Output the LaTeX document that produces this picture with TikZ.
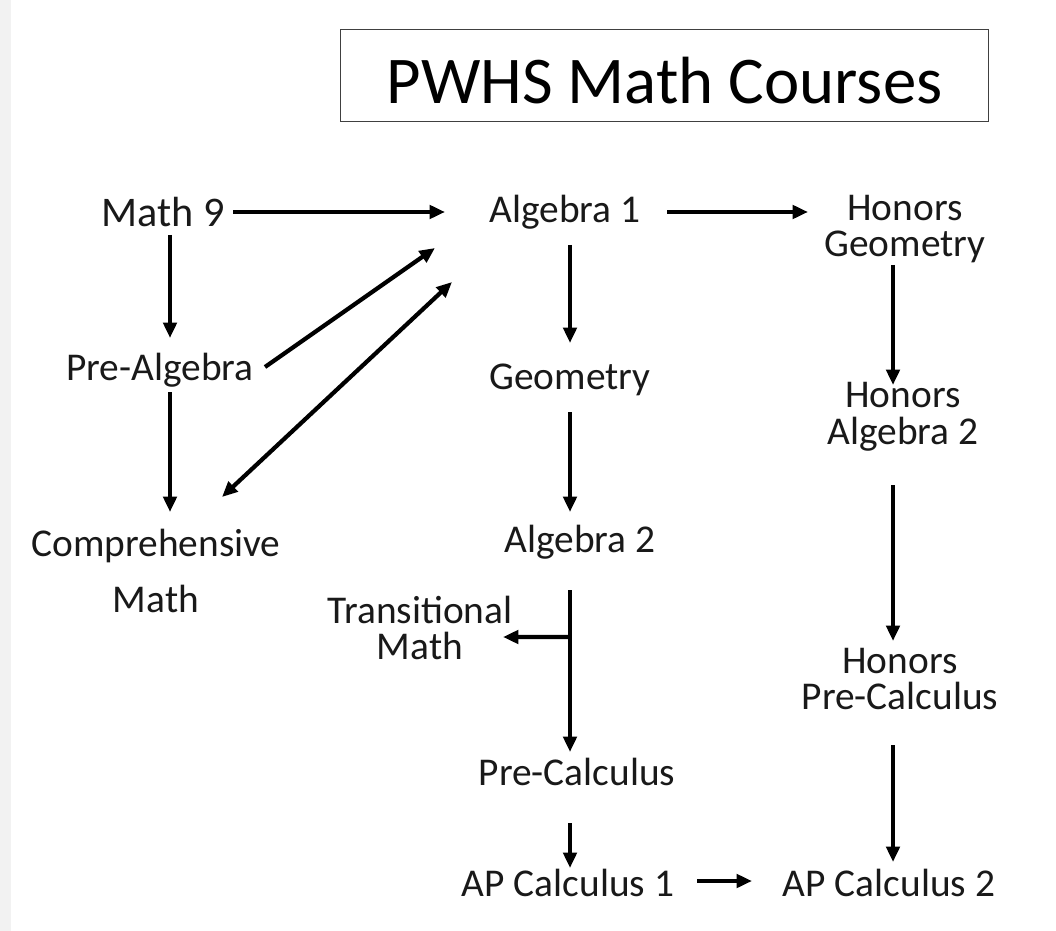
\documentclass[tikz,border=0pt]{standalone}
\usepackage{fontspec}
\setmainfont{Carlito}
\usepackage{tikz}
\usetikzlibrary{arrows.meta,calc}
\tikzset{
  course/.style={inner sep=0pt, align=center, text=black!90,
                 font=\fontsize{28}{26}\selectfont},
  titlebox/.style={rectangle, draw=black!75, line width=0.8pt,
                   minimum width=16.18cm, minimum height=2.28cm,
                   text height=40pt, text depth=0pt,
                   font=\fontsize{47.5}{50}\selectfont},
  flow/.style={-{Triangle[length=11pt,width=9.5pt]}, line width=3pt, black},
  twoway/.style={{Triangle[length=11pt,width=9.5pt]}-{Triangle[length=11pt,width=9.5pt]},
                 line width=3pt, black},
}

\begin{document}
\begin{tikzpicture}[x=0.025cm, y=-0.025cm]

\useasboundingbox[fill=white] (0,0) rectangle (1056,931);
\fill[black!5] (0,0) rectangle (11,931);

\node[titlebox] (title) at (664.5,75.5) {PWHS Math Courses};

% left column
\node[course, font=\fontsize{30}{26}\selectfont] (math9) at (163,212) {Math 9};
\node[course] (prealg) at (160,370) {Pre-Algebra};
\node[course, font=\fontsize{28}{40}\selectfont] (comp) at (156,571)
      {Comprehensive\\Math};

% middle column
\node[course] (alg1) at (565,212) {Algebra 1};
\node[course] (geo) at (570,380) {Geometry};
\node[course] (alg2) at (580,542) {Algebra 2};
\node[course] (trans) at (420,628) {Transitional\\Math};
\node[course] (precalc) at (577,772) {Pre-Calculus};
\node[course] (apc1) at (568,883) {AP Calculus 1};

% honors column
\node[course] (hgeo) at (905,229) {Honors\\Geometry};
\node[course] (halg2) at (903,417) {Honors\\Algebra 2};
\node[course] (hprecalc) at (900,679) {Honors\\Pre-Calculus};
\node[course] (apc2) at (889,883) {AP Calculus 2};

% flows
\draw[flow] ($(math9)+(70,0)$) -- ($(alg1)+(-120,0)$);
\draw[flow] ($(alg1)+(102,0)$) -- ($(hgeo)+(-97,-17)$);
\draw[flow] ($(math9)+(7,23)$) -- ($(prealg)+(10,-32)$);
\draw[flow] ($(prealg)+(105,-3)$) -- ($(alg1)+(-130,36)$);
\draw[twoway] ($(comp)+(66,-74)$) -- ($(alg1)+(-113,70)$);
\draw[flow] ($(prealg)+(10,22)$) -- ($(comp)+(14,-59)$);

\draw[flow] ($(alg1)+(5,33)$) -- ($(geo)+(0,-37)$);
\draw[flow] ($(geo)+(0,32)$) -- ($(alg2)+(-10,-30)$);
\draw[flow] ($(alg2)+(-10,48)$) -- coordinate[pos=0.29] (split) ($(precalc)+(-7,-20)$);
\draw[flow] (split) -- ($(trans)+(83,9)$);
\draw[flow] ($(precalc)+(-7,51)$) -- ($(apc1)+(2,-15)$);
\draw[flow] ($(apc1)+(129,-2)$) -- ($(apc2)+(-137,-2)$);

\draw[flow] ($(hgeo)+(-12,36)$) -- ($(halg2)+(-10,-32)$);
\draw[flow] ($(halg2)+(-10,68)$) -- ($(hprecalc)+(-7,-38)$);
\draw[flow] ($(hprecalc)+(-7,66)$) -- ($(apc2)+(4,-21)$);

\end{tikzpicture}
\end{document}
